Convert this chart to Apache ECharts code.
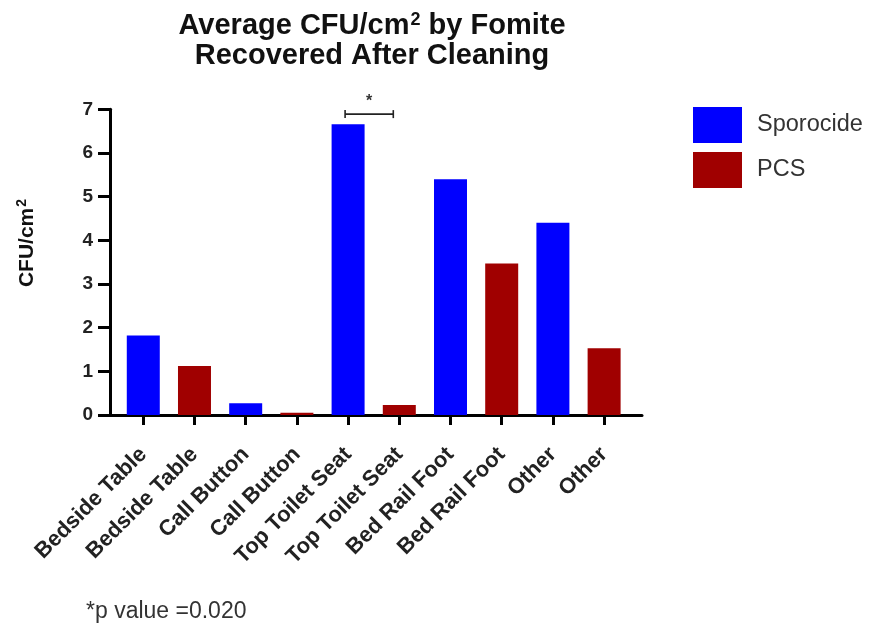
<!DOCTYPE html>
<html>
<head>
<meta charset="utf-8">
<script src="https://cdn.jsdelivr.net/npm/echarts@6/dist/echarts.min.js"></script>
<style>
  html, body { margin: 0; padding: 0; background: #ffffff; }
  #chart { width: 870px; height: 630px; }
</style>
</head>
<body>
<div id="chart"></div>
<script>
// Fomite surfaces, one bar per surface and treatment
const categories = [
  'Bedside Table', 'Bedside Table',
  'Call Button', 'Call Button',
  'Top Toilet Seat', 'Top Toilet Seat',
  'Bed Rail Foot', 'Bed Rail Foot',
  'Other', 'Other'
];
// Average CFU/cm² per surface (null where the other treatment applies)
const sporocide = [1.82, null, 0.27, null, 6.66, null, 5.40, null, 4.40, null];
const pcs       = [null, 1.12, null, 0.05, null, 0.23, null, 3.47, null, 1.53];
const seriesNames = ['Sporocide', 'PCS'];
const yTicks = [0, 1, 2, 3, 4, 5, 6, 7];
// Significant comparison between the two Top Toilet Seat bars
const comparisonFrom = 4;
const comparisonTo = 5;
const comparisonLevel = 6.89;
const comparisonMark = '*';
const footnote = '*p value =0.020';

const FONT = 'Liberation Sans';
const BLUE = '#0000ff';
const RED = '#a00000';

const toPairs = arr => arr.map((v, i) => (v == null ? null : [i, v])).filter(Boolean);
const catIndex = categories.map((_, i) => i);

const chart = echarts.init(document.getElementById('chart'), null, { renderer: 'canvas' });

chart.setOption({
  animation: false,
  backgroundColor: '#ffffff',
  title: [
    {
      text: '{t|Average CFU/cm}{s|2}{t| by Fomite}\n{t|Recovered After Cleaning}',
      left: 367,
      top: 6,
      textAlign: 'center',
      textStyle: {
        rich: {
          t: { fontFamily: FONT, fontSize: 29, fontWeight: 'bold', color: '#111', lineHeight: 30 },
          s: { fontFamily: FONT, fontSize: 18, fontWeight: 'bold', color: '#111', lineHeight: 30, verticalAlign: 'top', padding: [0, 0, 12, 1] }
        }
      }
    },
    {
      text: footnote,
      left: 81,
      top: 595,
      textStyle: { fontFamily: FONT, fontSize: 23, fontWeight: 'normal', color: '#333' }
    }
  ],
  legend: {
    orient: 'vertical',
    left: 693,
    top: 107,
    padding: 0,
    itemWidth: 49,
    itemHeight: 36,
    itemGap: 9,
    icon: 'rect',
    data: seriesNames,
    textStyle: { fontFamily: FONT, fontSize: 23.5, color: '#333', padding: [0, 0, 0, 10] }
  },
  graphic: [
    {
      type: 'text',
      x: 27,
      y: 243,
      rotation: Math.PI / 2,
      style: {
        text: '{n|CFU/cm}{s|2}',
        align: 'center',
        verticalAlign: 'middle',
        rich: {
          n: { font: 'bold 21px ' + FONT, fill: '#111', lineHeight: 24 },
          s: { font: 'bold 14px ' + FONT, fill: '#111', lineHeight: 24, verticalAlign: 'top', padding: [0, 0, 9, 1] }
        }
      }
    }
  ],
  grid: { left: 110, right: 228, top: 109.3, bottom: 215, containLabel: false },
  xAxis: {
    type: 'value',
    min: -0.65,
    max: 9.74,
    splitLine: { show: false },
    axisLine: { show: true, onZero: false, lineStyle: { color: '#000', width: 3 } },
    axisTick: { show: true, customValues: catIndex, length: 10, lineStyle: { color: '#000', width: 3 } },
    axisLabel: {
      show: true,
      customValues: catIndex,
      rotate: 45,
      margin: 36,
      fontFamily: FONT,
      fontSize: 22,
      fontWeight: 'bold',
      color: '#222',
      formatter: v => categories[Math.round(v)] || ''
    }
  },
  yAxis: {
    type: 'value',
    min: 0,
    max: 7,
    interval: 1,
    splitLine: { show: false },
    axisLine: { show: true, onZero: false, lineStyle: { color: '#000', width: 3 } },
    axisTick: { show: true, length: 12, lineStyle: { color: '#000', width: 3 } },
    axisLabel: {
      margin: 17,
      fontFamily: FONT,
      fontSize: 19,
      fontWeight: 'bold',
      color: '#222',
      customValues: yTicks
    }
  },
  series: [
    {
      name: seriesNames[0],
      type: 'bar',
      data: toPairs(sporocide),
      barWidth: 33,
      barGap: '-100%',
      itemStyle: { color: BLUE }
    },
    {
      name: seriesNames[1],
      type: 'bar',
      data: toPairs(pcs),
      barWidth: 33,
      barGap: '-100%',
      itemStyle: { color: RED }
    },
    {
      // significance bracket with its marker
      type: 'custom',
      silent: true,
      data: [[comparisonFrom, comparisonTo, comparisonLevel]],
      encode: { x: [0, 1], y: 2 },
      renderItem: (params, api) => {
        const a = api.coord([api.value(0), api.value(2)]);
        const b = api.coord([api.value(1), api.value(2)]);
        const x1 = a[0] - 3, x2 = b[0] - 6, y = a[1];
        const style = { stroke: '#222', lineWidth: 1.6 };
        return {
          type: 'group',
          children: [
            { type: 'line', shape: { x1: x1, y1: y, x2: x2, y2: y }, style: style },
            { type: 'line', shape: { x1: x1, y1: y - 4, x2: x1, y2: y + 4 }, style: style },
            { type: 'line', shape: { x1: x2, y1: y - 4, x2: x2, y2: y + 4 }, style: style },
            {
              type: 'text',
              style: {
                x: (x1 + x2) / 2, y: y - 5,
                text: comparisonMark,
                align: 'center', verticalAlign: 'bottom',
                font: 'bold 16px ' + FONT,
                fill: '#333'
              }
            }
          ]
        };
      }
    }
  ]
});
</script>
</body>
</html>
